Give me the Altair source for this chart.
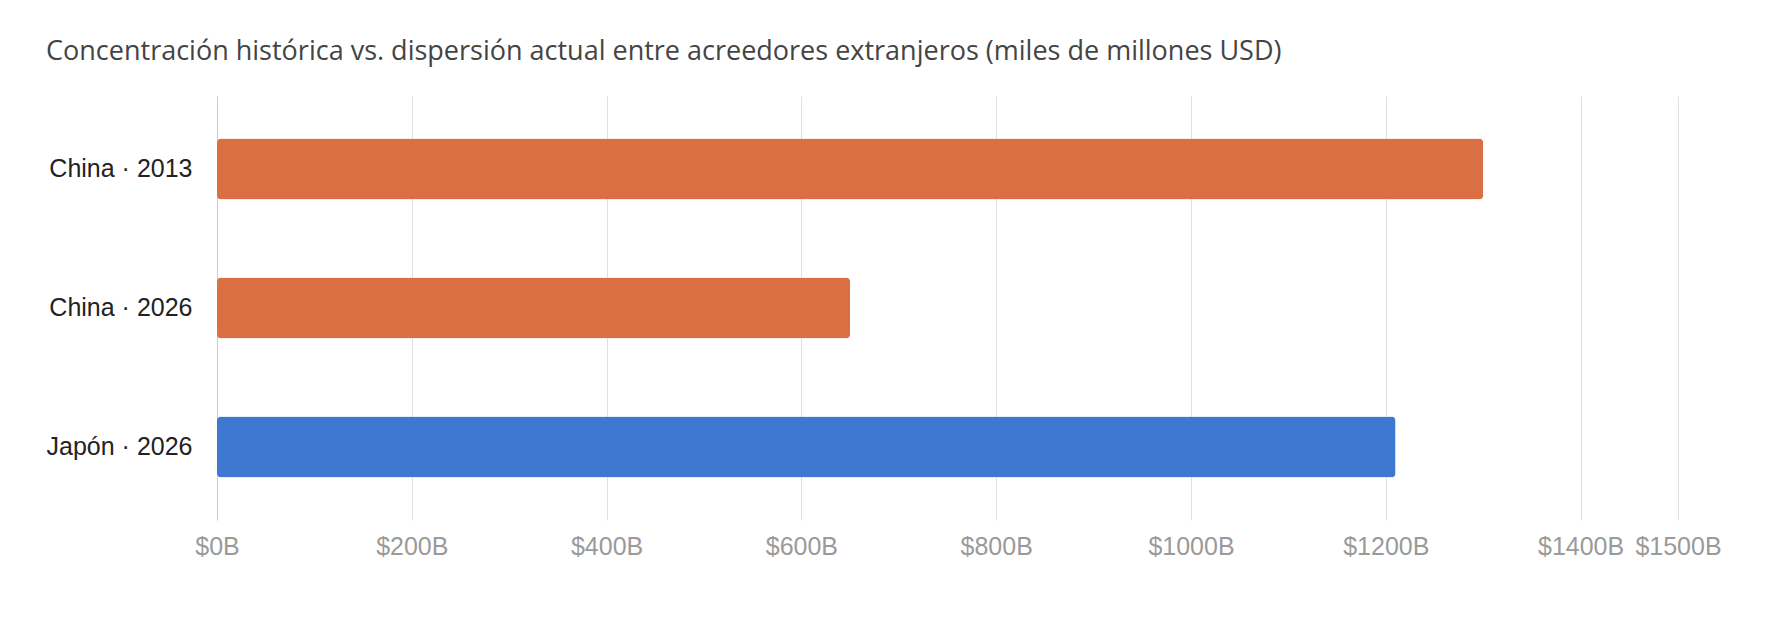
import altair as alt
import pandas as pd

labels = ["China · 2013", "China · 2026", "Japón · 2026"]
values = [1300, 650, 1210]
colors = ["#DB6F44", "#DB6F44", "#3E78D0"]
ticks = [0, 200, 400, 600, 800, 1000, 1200, 1400, 1500]

df = pd.DataFrame({"label": labels, "value": values, "color": colors})

chart = (
    alt.Chart(df)
    .mark_bar(cornerRadius=4, size=61)
    .encode(
        y=alt.Y("label:N", sort=labels, title=None,
                scale=alt.Scale(paddingInner=0.55, paddingOuter=0.3),
                axis=alt.Axis(labelFontSize=25, labelColor="#222", labelPadding=25,
                              ticks=False, domainColor="#ccc", labelFont="Liberation Sans")),
        x=alt.X("value:Q", title=None, scale=alt.Scale(domain=[0, 1500], nice=False),
                axis=alt.Axis(values=ticks, labelExpr="'$' + datum.value + 'B'",
                              labelFontSize=25, labelColor="#9a9a9a", gridColor="#e0e0e0",
                              domain=False, ticks=False, labelPadding=14, labelAlign="center",
                              labelFont="Liberation Sans", labelOverlap=False)),
        color=alt.Color("color:N", scale=None),
    )
    .properties(
        width=1461, height=424,
        title=alt.TitleParams(
            "Concentración histórica vs. dispersión actual entre acreedores extranjeros (miles de millones USD)",
            anchor="start", frame="bounds", fontSize=27, fontWeight=500, color="#444",
            font="Open Sans", offset=30),
        padding={"left": 38, "top": 30, "right": 40, "bottom": 10},
    )
    .configure_view(stroke=None)
)

chart.save("out.html", embed_options={"renderer": "svg", "actions": False})
